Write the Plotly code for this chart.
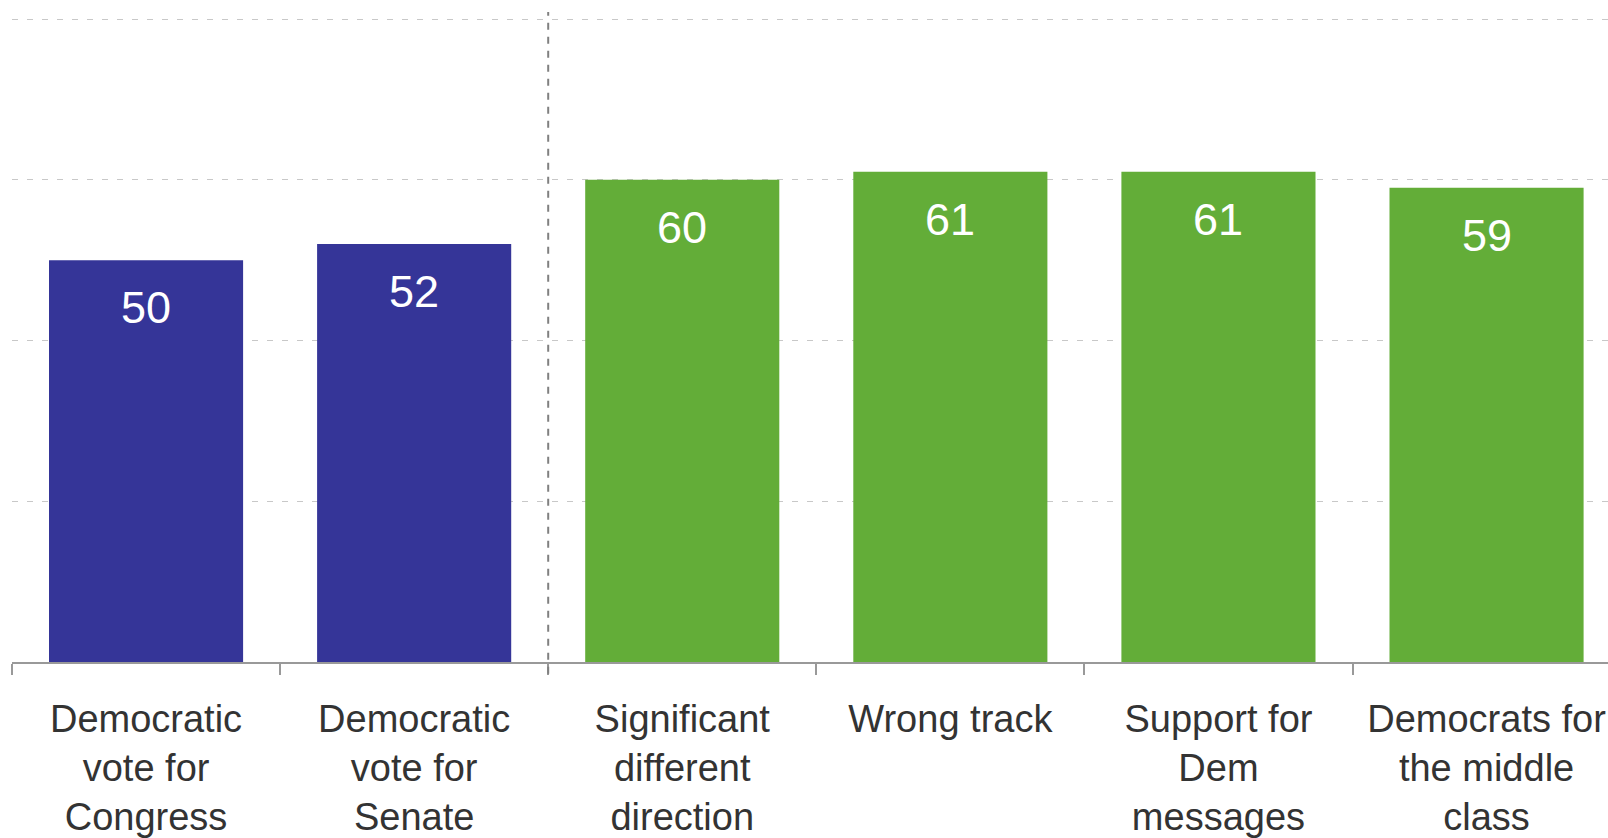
import plotly.graph_objects as go

categories = [
    "Democratic<br>vote for<br>Congress",
    "Democratic<br>vote for<br>Senate",
    "Significant<br>different<br>direction",
    "Wrong track",
    "Support for<br>Dem<br>messages",
    "Democrats for<br>the middle<br>class",
]
values = [50, 52, 60, 61, 61, 59]
bar_colors = ["#353598", "#353598", "#63ad38", "#63ad38", "#63ad38", "#63ad38"]

fig = go.Figure()
fig.add_trace(go.Bar(
    x=categories,
    y=values,
    marker=dict(color=bar_colors, line=dict(width=0)),
    hoverinfo="skip",
))

for c, v in zip(categories, values):
    fig.add_annotation(
        x=c, y=v, xref="x", yref="y",
        text=str(v), showarrow=False,
        yanchor="top", yshift=-20,
        font=dict(family="Liberation Sans, Arial", size=45, color="white"),
    )

fig.add_shape(
    type="line", xref="x", yref="paper",
    x0=1.5, x1=1.5, y0=-0.018, y1=1,
    line=dict(color="#808080", width=2, dash="7px,7px"),
)

fig.update_layout(
    width=1608, height=838,
    margin=dict(l=12, r=0, t=12, b=176, autoexpand=False),
    plot_bgcolor="white", paper_bgcolor="white",
    bargap=0.276,
    showlegend=False,
    font=dict(family="Liberation Sans, Arial", color="#333333"),
)
fig.update_xaxes(
    type="category",
    range=[-0.5, 5.453],
    tickson="boundaries",
    ticks="outside", ticklen=11, tickwidth=1.5, tickcolor="#999999",
    showline=True, linecolor="#999999", linewidth=2,
    showgrid=False,
    automargin=False,
    ticklabelstandoff=22,
    tickfont=dict(size=38, color="#333333"),
)
fig.update_yaxes(
    range=[0, 80.88],
    dtick=20,
    showticklabels=False,
    showgrid=True, gridcolor="#c8c8c8", gridwidth=1.2, griddash="6px,9px",
    zeroline=False,
    showline=False,
    automargin=False,
)

fig.write_html(
    "out.html",
    config={"displayModeBar": False},
    post_script="document.body.style.margin='0';document.body.style.overflow='hidden';",
)
